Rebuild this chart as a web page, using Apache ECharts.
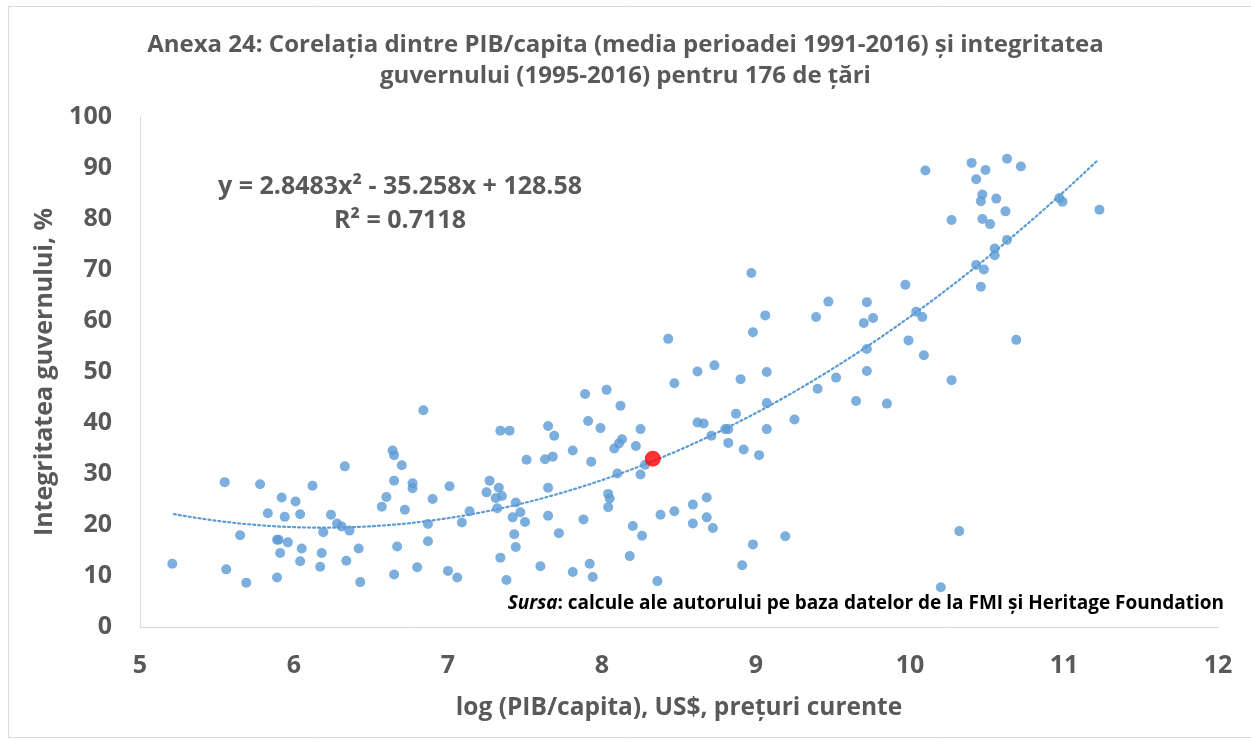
<!DOCTYPE html>
<html>
<head>
<meta charset="utf-8">
<script src="https://cdn.jsdelivr.net/npm/echarts@6/dist/echarts.min.js"></script>
<style>
html,body{margin:0;padding:0;background:#fff;}
#chart{width:1251px;height:740px;}
</style>
</head>
<body>
<div id="chart"></div>
<script>
// log(GDP per capita) values
const logGdp = [
5.21,5.55,5.56,5.65,5.69,5.78,5.83,5.89,5.90,5.89,5.91,5.92,5.94,5.96,6.01,6.04,6.05,6.04,6.12,6.18,
6.17,6.19,6.24,6.28,6.31,6.33,6.34,6.36,6.42,6.43,6.57,6.60,6.64,6.65,6.65,6.65,6.70,6.72,6.67,6.77,
6.77,6.80,6.84,6.87,6.87,6.90,7.01,7.09,7.14,7.00,7.06,7.27,7.25,7.33,7.31,7.35,7.32,7.34,7.40,7.44,
7.47,7.42,7.50,7.43,7.44,7.34,7.38,7.51,7.63,7.68,7.65,7.69,7.65,7.65,7.72,7.60,7.81,7.89,7.91,7.93,
7.99,8.03,8.12,7.88,7.81,7.92,7.94,8.04,8.05,8.04,8.08,8.11,8.13,8.10,8.22,8.25,8.18,8.20,8.26,8.25,
8.28,8.36,8.38,8.47,8.47,8.62,8.73,8.62,8.66,8.71,8.59,8.68,8.59,8.68,8.72,8.43,8.80,8.82,8.82,8.87,
8.92,9.02,8.90,8.98,9.06,9.07,9.07,9.07,9.25,9.39,9.47,9.40,9.52,9.65,9.70,9.76,9.72,9.72,9.72,9.85,
9.99,10.04,10.08,10.09,10.27,10.69,8.98,8.91,9.19,10.32,10.20,8.97,10.10,10.40,10.49,10.43,10.63,10.72,10.47,10.46,
10.56,10.62,10.27,10.47,10.52,10.97,10.99,11.23,10.63,10.55,10.55,10.43,10.48,10.46,9.97
];
// government integrity, %
const integrity = [
12.4,28.4,11.3,18.0,8.7,28.0,22.3,17.1,17.1,9.7,14.5,25.4,21.6,16.6,24.6,22.1,15.4,12.9,27.7,14.5,
11.8,18.6,22.0,20.3,19.7,31.5,13.0,18.9,15.4,8.8,23.6,25.5,34.6,33.7,28.7,10.3,31.7,23.0,15.8,28.2,
27.2,11.7,42.5,20.2,16.8,25.1,27.6,20.5,22.7,11.0,9.7,28.7,26.4,27.3,25.3,25.7,23.3,38.5,38.5,24.4,
22.5,21.5,20.6,18.2,15.7,13.6,9.2,32.8,32.9,33.4,39.4,37.5,27.3,21.8,18.4,11.9,34.6,45.7,40.4,32.4,
39.0,46.5,43.4,21.1,10.8,12.4,9.8,26.1,25.2,23.5,35.0,36.0,36.8,30.1,35.5,38.8,13.9,19.8,17.9,29.9,
31.8,9.0,22.0,47.8,22.7,50.1,51.3,40.1,39.9,37.5,24.0,25.4,20.3,21.5,19.4,56.5,38.8,38.8,36.1,41.8,
34.8,33.7,48.6,57.8,61.1,50.0,43.9,38.8,40.7,60.8,63.8,46.7,48.9,44.3,59.6,60.6,63.7,54.5,50.2,43.8,
56.2,61.8,60.8,53.3,48.4,56.3,16.2,12.1,17.8,18.8,7.8,69.4,89.5,91.0,89.6,87.8,91.8,90.3,84.8,83.5,
84.0,81.5,79.8,80.0,79.0,84.1,83.4,81.8,75.9,74.2,72.9,71.0,70.1,66.7,67.1
];
// highlighted country (red marker)
const highlightX = [8.33];
const highlightY = [33.0];
// polynomial trendline coefficients shown on the chart: a*x^2 + b*x + c
const trendCoef = [2.8483, -35.258, 128.58];
const trendRange = [5.22, 11.22];
const titleLines = ['Anexa 24: Corelația dintre PIB/capita (media perioadei 1991-2016) și integritatea', 'guvernului (1995-2016) pentru 176 de țări'];
const eqLines = ['y = 2.8483x² - 35.258x + 128.58', 'R² = 0.7118'];
const xTicks = [5, 6, 7, 8, 9, 10, 11, 12];
const yTicks = [0, 10, 20, 30, 40, 50, 60, 70, 80, 90, 100];
const xName = 'log (PIB/capita), US$, prețuri curente';
const yName = 'Integritatea guvernului, %';
const sourceLabel = 'Sursa';
const sourceText = ': calcule ale autorului pe baza datelor de la FMI și Heritage Foundation';

const pts = logGdp.map((x, i) => [x, integrity[i]]);
const trend = [];
for (let k = 0; k <= 120; k++) {
  const x = trendRange[0] + (trendRange[1] - trendRange[0]) * k / 120;
  trend.push([x, trendCoef[0] * x * x + trendCoef[1] * x + trendCoef[2]]);
}

const FONT = '"Open Sans", "Noto Sans", sans-serif';
const GRAY = '#595959';
const chart = echarts.init(document.getElementById('chart'));
chart.setOption({
  backgroundColor: '#fff',
  animation: false,
  title: {
    text: titleLines.join('\n'),
    left: 'center',
    top: 25,
    textStyle: { fontFamily: FONT, fontSize: 24, fontWeight: 'bold', color: GRAY, lineHeight: 31 }
  },
  grid: { left: 140, right: 33, top: 117, bottom: 113, containLabel: false },
  xAxis: {
    type: 'value', min: xTicks[0], max: xTicks[xTicks.length - 1], interval: 1,
    name: xName, nameLocation: 'middle', nameGap: 69,
    nameTextStyle: { fontFamily: FONT, fontSize: 24.5, fontWeight: 'bold', color: GRAY },
    axisLine: { show: true, lineStyle: { color: '#d9d9d9', width: 1 } },
    axisTick: { show: false },
    splitLine: { show: false },
    axisLabel: { fontFamily: FONT, fontSize: 25, fontWeight: 'bold', color: GRAY, margin: 26 }
  },
  yAxis: {
    type: 'value', min: yTicks[0], max: yTicks[yTicks.length - 1], interval: 10,
    name: yName, nameLocation: 'middle', nameGap: 83, nameRotate: 90,
    nameTextStyle: { fontFamily: FONT, fontSize: 25, fontWeight: 'bold', color: GRAY },
    axisLine: { show: true, lineStyle: { color: '#d9d9d9', width: 1 } },
    axisTick: { show: false },
    splitLine: { show: false },
    axisLabel: { fontFamily: FONT, fontSize: 25, fontWeight: 'bold', color: GRAY, margin: 28 }
  },
  series: [
    {
      type: 'scatter', data: pts, symbolSize: 10,
      itemStyle: { color: '#5b9bd5' }, z: 3
    },
    {
      type: 'line', data: trend, showSymbol: false, smooth: false,
      lineStyle: { color: '#5b9bd5', width: 2.2, type: [2, 3], cap: 'round' }, z: 2
    },
    {
      type: 'scatter', data: highlightX.map((x, i) => [x, highlightY[i]]), symbolSize: 16,
      itemStyle: { color: '#ff0000' }, z: 5
    }
  ],
  graphic: [
    { type: 'rect', left: 6, top: 4, shape: { width: 1260, height: 731 }, style: { fill: 'none', stroke: '#d9d9d9', lineWidth: 1 }, silent: true, z: -1 },
    { type: 'text', x: 400, y: 187, style: { text: eqLines[0], font: 'bold 25px ' + FONT, fill: GRAY, textAlign: 'center', textVerticalAlign: 'middle' } },
    { type: 'text', x: 400, y: 221, style: { text: eqLines[1], font: 'bold 25px ' + FONT, fill: GRAY, textAlign: 'center', textVerticalAlign: 'middle' } },
    { type: 'text', right: 27, top: 594, style: {
        text: '{i|' + sourceLabel + '}{n|' + sourceText + '}',
        rich: {
          i: { fontFamily: FONT, fontSize: 19, fontStyle: 'italic', fontWeight: 'bold', fill: '#000', color: '#000' },
          n: { fontFamily: FONT, fontSize: 19, fontWeight: 'bold', fill: '#000', color: '#000' }
        }
      } }
  ]
});
</script>
</body>
</html>
